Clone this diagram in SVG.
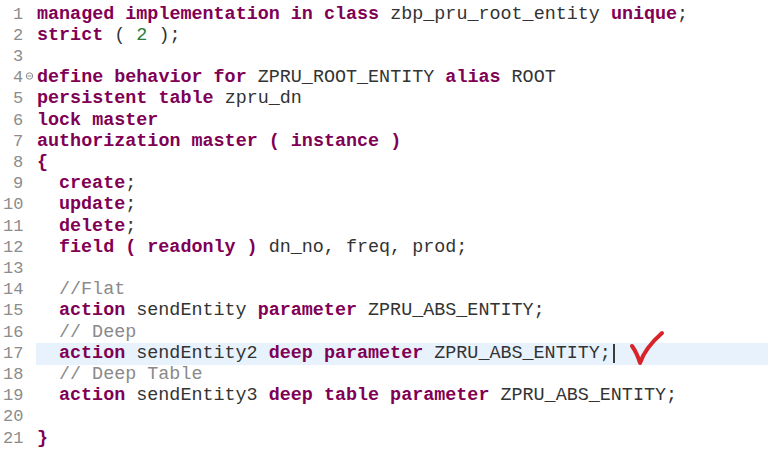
<svg xmlns="http://www.w3.org/2000/svg" width="768" height="451" viewBox="0 0 768 451">
<style>
text{font-family:"Liberation Mono","Courier New",monospace;font-size:18.4px;white-space:pre}
.n{fill:#8c8c8c;font-size:17px}
.k{fill:#7f0055;font-weight:bold}
.t{fill:#333}
.c{fill:#8a8a8a}
.g{fill:#2a7a3a}
</style>
<rect width="768" height="451" fill="#fff"/>
<rect x="36" y="343" width="732" height="22" fill="#e8f2fc"/>
<g id="numbers">
<text class="n" x="13" y="19">1</text><text class="n" x="13" y="40">2</text><text class="n" x="13" y="61">3</text><text class="n" x="13" y="82">4</text><text class="n" x="13" y="103">5</text><text class="n" x="13" y="125">6</text><text class="n" x="13" y="146">7</text><text class="n" x="13" y="167">8</text><text class="n" x="13" y="188">9</text>
<text class="n" x="3" y="209">10</text><text class="n" x="3" y="231">11</text><text class="n" x="3" y="252">12</text><text class="n" x="3" y="273">13</text><text class="n" x="3" y="294">14</text><text class="n" x="3" y="315">15</text><text class="n" x="3" y="337">16</text><text class="n" x="3" y="358">17</text><text class="n" x="3" y="379">18</text><text class="n" x="3" y="400">19</text><text class="n" x="3" y="421">20</text><text class="n" x="3" y="443">21</text>
<circle cx="29.5" cy="76" r="3.2" fill="none" stroke="#8c8c8c" stroke-width="1"/><line x1="27.5" y1="76" x2="31.5" y2="76" stroke="#8c8c8c"/>
</g>
<g id="code">
<text x="37" y="19"><tspan class="k">managed implementation in class</tspan><tspan class="t"> zbp_pru_root_entity </tspan><tspan class="k">unique</tspan><tspan class="t">;</tspan></text>
<text x="37" y="40"><tspan class="k">strict</tspan><tspan class="t"> ( </tspan><tspan class="g">2</tspan><tspan class="t"> );</tspan></text>
<text x="37" y="82"><tspan class="k">define behavior for</tspan><tspan class="t"> ZPRU_ROOT_ENTITY </tspan><tspan class="k">alias</tspan><tspan class="t"> ROOT</tspan></text>
<text x="37" y="103"><tspan class="k">persistent table</tspan><tspan class="t"> zpru_dn</tspan></text>
<text x="37" y="125"><tspan class="k">lock master</tspan></text>
<text x="37" y="146"><tspan class="k">authorization master ( instance )</tspan></text>
<text x="37" y="167" class="k">{</text>
<text x="59" y="188"><tspan class="k">create</tspan><tspan class="t">;</tspan></text>
<text x="59" y="209"><tspan class="k">update</tspan><tspan class="t">;</tspan></text>
<text x="59" y="231"><tspan class="k">delete</tspan><tspan class="t">;</tspan></text>
<text x="59" y="252"><tspan class="k">field ( readonly )</tspan><tspan class="t"> dn_no, freq, prod;</tspan></text>
<text x="59" y="294" class="c">//Flat</text>
<text x="59" y="315"><tspan class="k">action</tspan><tspan class="t"> sendEntity </tspan><tspan class="k">parameter</tspan><tspan class="t"> ZPRU_ABS_ENTITY;</tspan></text>
<text x="59" y="337" class="c">// Deep</text>
<text x="59" y="358"><tspan class="k">action</tspan><tspan class="t"> sendEntity2 </tspan><tspan class="k">deep parameter</tspan><tspan class="t"> ZPRU_ABS_ENTITY;</tspan></text>
<text x="59" y="379" class="c">// Deep Table</text>
<text x="59" y="400"><tspan class="k">action</tspan><tspan class="t"> sendEntity3 </tspan><tspan class="k">deep table parameter</tspan><tspan class="t"> ZPRU_ABS_ENTITY;</tspan></text>
<text x="37" y="443" class="k">}</text>
</g>
<line x1="614" y1="344" x2="614" y2="363" stroke="#000" stroke-width="1.5"/>
<path d="M632 346 Q637 353 640 363 Q645 348 662 333" fill="none" stroke="#d9232a" stroke-width="4" stroke-linecap="round" stroke-linejoin="round"/>
</svg>
